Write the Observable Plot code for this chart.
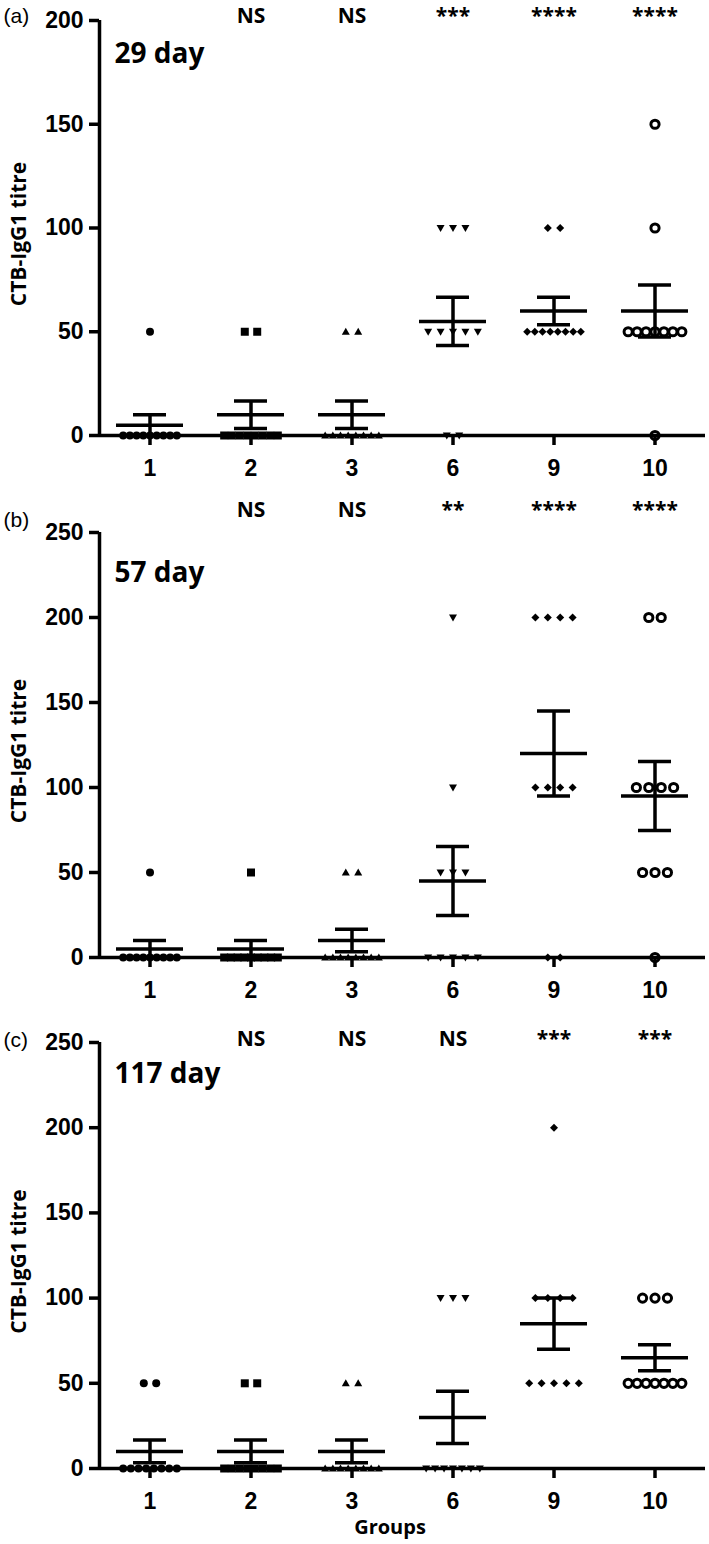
<!DOCTYPE html>
<html>
<head>
<meta charset="utf-8">
<script src="https://cdn.jsdelivr.net/npm/d3@7"></script>
<script src="https://cdn.jsdelivr.net/npm/@observablehq/plot@0.6"></script>
<style>
  html, body { margin: 0; padding: 0; background: #ffffff; }
  #chart { width: 709px; }
  #chart svg { display: block; overflow: visible; }
  #chart g[aria-label*="axis"] line, #chart g[aria-label*="axis tick"] path { stroke-width: 3.5px; }
</style>
</head>
<body>
<div id="chart"></div>
<script>
// ---------- data ----------
const groups = ["1", "2", "3", "6", "9", "10"];
const panelLetters = ["(a)", "(b)", "(c)"];
const dayLabels = ["29 day", "57 day", "117 day"];
const yTitle = "CTB-IgG1 titre";
const xTitle = "Groups";
const yMaxes = [200, 250, 250];
const yTicks29 = [0, 50, 100, 150, 200];
const yTicks57 = [0, 50, 100, 150, 200, 250];
const yTicks117 = [0, 50, 100, 150, 200, 250];

const sig29 = ["", "NS", "NS", "***", "****", "****"];
const sig57 = ["", "NS", "NS", "**", "****", "****"];
const sig117 = ["", "NS", "NS", "NS", "***", "***"];

// individual titres per group (n = 10), in group order 1,2,3,6,9,10
const day29 = [
  [50, 0, 0, 0, 0, 0, 0, 0, 0, 0],
  [50, 50, 0, 0, 0, 0, 0, 0, 0, 0],
  [50, 50, 0, 0, 0, 0, 0, 0, 0, 0],
  [100, 100, 100, 50, 50, 50, 50, 50, 0, 0],
  [100, 100, 50, 50, 50, 50, 50, 50, 50, 50],
  [150, 100, 50, 50, 50, 50, 50, 50, 50, 0]
];
const day57 = [
  [50, 0, 0, 0, 0, 0, 0, 0, 0, 0],
  [50, 0, 0, 0, 0, 0, 0, 0, 0, 0],
  [50, 50, 0, 0, 0, 0, 0, 0, 0, 0],
  [200, 100, 50, 50, 50, 0, 0, 0, 0, 0],
  [200, 200, 200, 200, 100, 100, 100, 100, 0, 0],
  [200, 200, 100, 100, 100, 100, 50, 50, 50, 0]
];
const day117 = [
  [50, 50, 0, 0, 0, 0, 0, 0, 0, 0],
  [50, 50, 0, 0, 0, 0, 0, 0, 0, 0],
  [50, 50, 0, 0, 0, 0, 0, 0, 0, 0],
  [100, 100, 100, 0, 0, 0, 0, 0, 0, 0],
  [200, 100, 100, 100, 100, 50, 50, 50, 50, 50],
  [100, 100, 100, 50, 50, 50, 50, 50, 50, 50]
];

// ---------- layout / style ----------
const W = 709, ML = 97, MR = 2;
const BW = (W - ML - MR) / groups.length;
const HALF = BW / 2;
const SPREAD = 54, STEP_MAX = 12.5;  // horizontal spread of tied points (px)
const LINE = 3.5;
const TICKFONT = "'Liberation Sans', Arial, sans-serif";
const LABELFONT = "'Open Sans', 'Noto Sans', sans-serif";
const TICKSIZE = 23;
const HAS_AXIS = typeof Plot.axisY === "function" && typeof Plot.axisFx === "function";

const panels = [
  {values: day29, sig: sig29, ticks: yTicks29, ymax: yMaxes[0], height: 490, mt: 20, mb: 55, dySig: -4, dyLetter: -4, dyDay: 34, xlabel: null},
  {values: day57, sig: sig57, ticks: yTicks57, ymax: yMaxes[1], height: 510, mt: 42, mb: 43, dySig: -22, dyLetter: -12, dyDay: 41, xlabel: null},
  {values: day117, sig: sig117, ticks: yTicks117, ymax: yMaxes[2], height: 544, mt: 42, mb: 76, dySig: -3, dyLetter: -2, dyDay: 32, xlabel: xTitle}
];

// ---------- symbols ----------
const rOf = (size) => Math.sqrt(size / Math.PI);
const symCircle = {draw(c, s) { const r = rOf(s); c.moveTo(r, 0); c.arc(0, 0, r, 0, 2 * Math.PI); }};
const symSquare = {draw(c, s) { const r = rOf(s); c.rect(-r, -r, 2 * r, 2 * r); }};
const symTriUp = {draw(c, s) { const r = rOf(s); c.moveTo(0, -r); c.lineTo(r, 0.75 * r); c.lineTo(-r, 0.75 * r); c.closePath(); }};
const symTriDown = {draw(c, s) { const r = rOf(s); c.moveTo(-r, -0.75 * r); c.lineTo(r, -0.75 * r); c.lineTo(0, r); c.closePath(); }};
const symDiamond = {draw(c, s) { const r = rOf(s); c.moveTo(0, -r); c.lineTo(r, 0); c.lineTo(0, r); c.lineTo(-r, 0); c.closePath(); }};
const groupSymbols = [symCircle, symSquare, symTriUp, symTriDown, symDiamond, symCircle];
const groupFilled = [true, true, true, true, true, false];

// ---------- helpers ----------
function buildRows(values) {
  const rows = [];
  values.forEach((vals, gi) => {
    const counts = d3.rollup(vals, v => v.length, v => v);
    const seen = new Map();
    vals.forEach(v => {
      const n = counts.get(v);
      const k = seen.get(v) || 0;
      seen.set(v, k + 1);
      const step = n > 1 ? Math.min(STEP_MAX, SPREAD / (n - 1)) : 0;
      rows.push({group: groups[gi], value: v, off: (k - (n - 1) / 2) * step});
    });
  });
  return rows;
}

function buildStats(values) {
  return values.map((vals, gi) => {
    const m = d3.mean(vals);
    const s = d3.deviation(vals) / Math.sqrt(vals.length);
    return {group: groups[gi], mean: m, lo: m - s, hi: m + s};
  });
}

function panel(p) {
  const cfg = panels[p];
  const rows = buildRows(cfg.values);
  const stats = buildStats(cfg.values);
  const sigRows = groups.map((g, i) => ({group: g, label: cfg.sig[i]})).filter(d => d.label);
  const marks = [];

  groups.forEach((g, gi) => {
    const filled = groupFilled[gi];
    marks.push(Plot.dot(rows.filter(d => d.group === g), {
      fx: "group", x: "off", y: "value",
      symbol: groupSymbols[gi], r: filled ? 4 : 4.1,
      fill: filled ? "black" : "white",
      stroke: filled ? "none" : "black",
      strokeWidth: filled ? 0 : 3
    }));
  });

  // mean ± SEM
  marks.push(Plot.ruleY(stats, {fx: "group", y: "mean", insetLeft: 17, insetRight: 17, strokeWidth: LINE, stroke: "black"}));
  marks.push(Plot.ruleY(stats, {fx: "group", y: "hi", insetLeft: 34, insetRight: 34, strokeWidth: LINE, stroke: "black"}));
  marks.push(Plot.ruleY(stats, {fx: "group", y: "lo", insetLeft: 34, insetRight: 34, strokeWidth: LINE, stroke: "black"}));
  marks.push(Plot.ruleX(stats, {fx: "group", x: 0, y1: "lo", y2: "hi", strokeWidth: LINE, stroke: "black"}));

  // axis lines
  marks.push(Plot.ruleY([0], {strokeWidth: LINE, stroke: "black"}));
  marks.push(Plot.ruleX([{g: groups[0]}], {fx: "g", x: -HALF, y1: 0, y2: cfg.ymax, strokeWidth: LINE, stroke: "black"}));

  if (HAS_AXIS) {
    marks.push(Plot.axisY({ticks: cfg.ticks, tickSize: 10, tickPadding: 6, strokeWidth: LINE, label: null,
      fontSize: TICKSIZE, fontWeight: "bold", fontFamily: TICKFONT}));
    marks.push(Plot.axisFx({anchor: "bottom", tickSize: 10, tickPadding: 14, strokeWidth: LINE, label: null,
      fontSize: TICKSIZE, fontWeight: "bold", fontFamily: TICKFONT}));
  }

  // texts
  marks.push(Plot.text(sigRows, {fx: "group", x: 0, frameAnchor: "top", lineAnchor: "middle", text: "label", dy: cfg.dySig,
    fontFamily: LABELFONT, fontSize: 21, fontWeight: "bold"}));
  marks.push(Plot.text([{g: groups[0], t: dayLabels[p]}], {fx: "g", text: "t", frameAnchor: "top-left", textAnchor: "start",
    lineAnchor: "middle", dx: 15, dy: cfg.dyDay, fontFamily: LABELFONT, fontSize: 28, fontWeight: "bold"}));
  marks.push(Plot.text([{g: groups[0], t: panelLetters[p]}], {fx: "g", text: "t", frameAnchor: "top-left", textAnchor: "start",
    lineAnchor: "middle", dx: -96, dy: cfg.dyLetter, fontFamily: TICKFONT, fontSize: 21, fontWeight: "normal"}));
  marks.push(Plot.text([{g: groups[0], t: yTitle}], {fx: "g", text: "t", frameAnchor: "left", textAnchor: "middle",
    lineAnchor: "middle", rotate: -90, dx: -80, dy: 6, fontFamily: LABELFONT, fontSize: 21, fontWeight: "bold"}));
  if (cfg.xlabel) {
    marks.push(Plot.text([{g: groups[2], t: cfg.xlabel}], {fx: "g", text: "t", x: 0, frameAnchor: "bottom",
      textAnchor: "middle", lineAnchor: "middle", dx: 38, dy: 59, fontFamily: LABELFONT, fontSize: 20, fontWeight: "bold"}));
  }

  return Plot.plot({
    width: W,
    height: cfg.height,
    marginLeft: ML,
    marginRight: MR,
    marginTop: cfg.mt,
    marginBottom: cfg.mb,
    style: {fontFamily: TICKFONT, fontSize: TICKSIZE + "px", fontWeight: "bold", color: "black", background: "white", overflow: "visible"},
    fx: {domain: groups, padding: 0, axis: HAS_AXIS ? null : "bottom", label: null, tickSize: 10, tickPadding: 14},
    x: {domain: [-HALF, HALF], axis: null},
    y: {domain: [0, cfg.ymax], ticks: cfg.ticks, axis: HAS_AXIS ? null : "left", label: null, tickSize: 10, tickPadding: 6},
    marks
  });
}

const root = document.getElementById("chart");
panels.forEach((_, p) => root.appendChild(panel(p)));
</script>
</body>
</html>
